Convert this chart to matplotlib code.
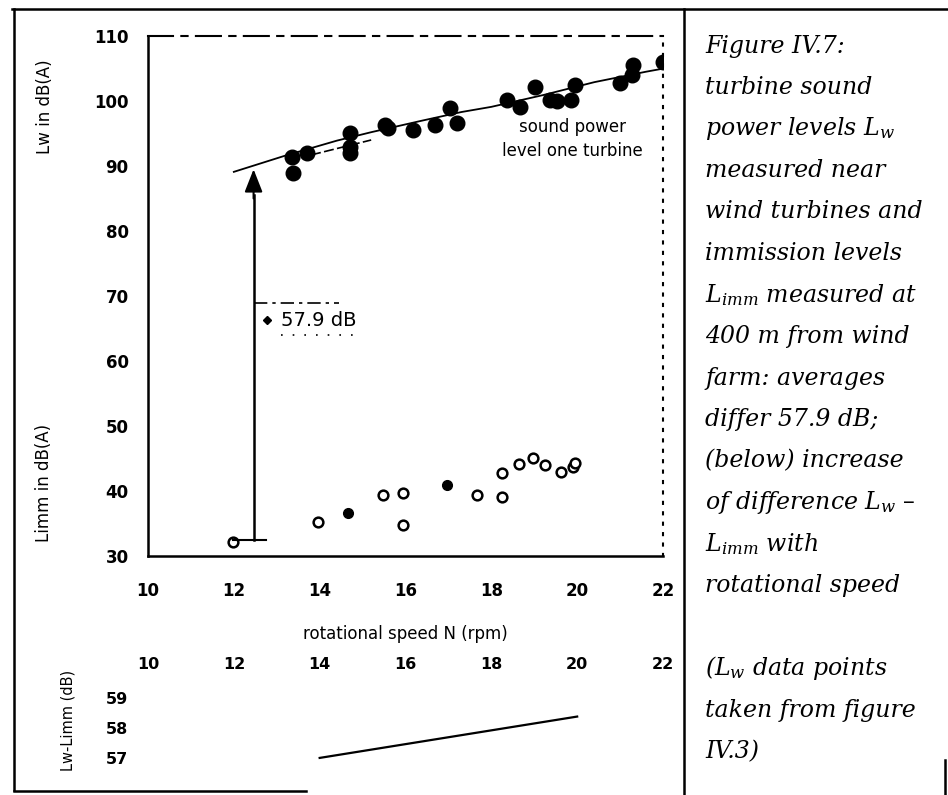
import numpy as np
import matplotlib
matplotlib.use("Agg")
import matplotlib.pyplot as plt
from matplotlib.lines import Line2D

plt.rcParams['font.family'] = ['DejaVu Sans']
plt.rcParams['mathtext.fontset'] = 'dejavuserif'

# ======================= data
# sound power level Lw of one turbine (filled dots)
n_lw = [13.38, 13.36, 13.70, 14.71, 14.71, 14.71, 15.52, 15.60, 16.17, 16.69,
        17.04, 17.20, 18.36, 18.67, 19.02, 19.37, 19.53, 19.95, 19.85, 21.00,
        21.30, 21.28, 22.00]
lw = [88.9, 91.4, 92.0, 95.1, 92.9, 92.0, 96.3, 95.8, 95.5, 96.3,
      98.9, 96.6, 100.2, 99.1, 102.2, 100.2, 100.0, 102.5, 100.2, 102.8,
      105.5, 104.0, 106.0]

# fitted curve through the Lw points
n_fit = [12.0, 13.2, 14.4, 15.2, 16.4, 17.3, 18.0, 19.2, 20.4, 21.6, 22.1]
lw_fit = [89.1, 91.6, 93.9, 95.2, 97.0, 98.3, 99.1, 100.9, 102.9, 104.5, 105.1]
n_fit2 = [13.8, 15.2]
lw_fit2 = [91.7, 94.0]

# immission level Limm at 400 m (open circles, two filled)
n_imm = [11.98, 13.96, 15.48, 15.94, 15.94, 17.67, 18.25, 18.25, 18.64,
         18.97, 19.25, 19.62, 19.90, 19.95]
limm = [32.2, 35.2, 39.4, 39.7, 34.8, 39.4, 39.1, 42.8, 44.2,
        45.1, 44.0, 42.9, 43.7, 44.3]
n_imm_f = [14.66, 16.97]
limm_f = [36.6, 40.9]

# difference of the averages
n_arrow = 12.46
arrow_from, arrow_to = 32.4, 89.5
diff_label = "57.9 dB"

# lower panel: Lw - Limm against rotational speed
n_diff = [14.0, 20.0]
d_diff = [57.0, 58.38]

xticks = [10, 12, 14, 16, 18, 20, 22]
yticks = [30, 40, 50, 60, 70, 80, 90, 100, 110]
yticks_low = [57, 58, 59]

caption = ["Figure IV.7:",
           "turbine sound",
           r"power levels $L_w$",
           "measured near",
           "wind turbines and",
           "immission levels",
           r"$L_{imm}$ measured at",
           "400 m from wind",
           "farm: averages",
           "differ 57.9 dB;",
           "(below) increase",
           r"of difference $L_w$ –",
           r"$L_{imm}$ with",
           "rotational speed",
           "",
           r"($L_w$ data points",
           "taken from figure",
           "IV.3)"]

# ======================= figure
W, H = 948, 795
fig = plt.figure(figsize=(W / 100, H / 100), dpi=100)


def fx(px):
    return px / W


def fy(py):
    return 1 - py / H


# main axes
ax = fig.add_axes([fx(148), fy(556), fx(663) - fx(148), fy(36) - fy(556)])
ax.set_xlim(10, 22)
ax.set_ylim(30, 110)

ax.plot(n_fit, lw_fit, color='k', lw=1.3)
ax.plot(n_fit2, lw_fit2, color='k', lw=1.2, ls=(0, (6, 2)))
ax.plot(n_lw, lw, 'o', color='k', ms=10.5)
ax.plot(n_imm, limm, 'o', mfc='white', mec='k', mew=1.8, ms=7)
ax.plot(n_imm_f, limm_f, 'o', color='k', ms=7)

# arrow from immission level up to sound power level
ax.plot([n_arrow, n_arrow], [arrow_from, arrow_to - 4], color='k', lw=1.8)
ax.annotate("", xy=(n_arrow, arrow_to), xytext=(n_arrow, arrow_to - 4.5),
            arrowprops=dict(arrowstyle='-|>,head_length=1.4,head_width=0.55',
                            color='k', lw=1.5, shrinkA=0, shrinkB=0))
ax.plot([n_imm[0], n_arrow + 0.3], [arrow_from, arrow_from], color='k', lw=1.5)

# label box for the difference
ax.plot([n_arrow, 14.45], [68.9, 68.9], color='k', lw=1.2, ls=(0, (8, 3, 2, 3)))
ax.plot([13.1, 14.9], [64.0, 64.0], color='k', lw=1.2, ls=(0, (1, 6)))
ax.plot([12.77], [66.3], 'D', color='k', ms=4)
ax.text(13.1, 66.3, diff_label, fontsize=14, va='center', ha='left')

ax.text(19.9, 94.1, "sound power\nlevel one turbine", fontsize=12,
        ha='center', va='center', linespacing=1.45)

# spines
for s in ['top', 'bottom', 'left', 'right']:
    ax.spines[s].set_color('k')
ax.spines['left'].set_linewidth(1.8)
ax.spines['bottom'].set_linewidth(1.8)
ax.spines['top'].set_linewidth(1.5)
ax.spines['top'].set_linestyle((0, (12, 4, 3, 4)))
ax.spines['right'].set_linewidth(1.5)
ax.spines['right'].set_linestyle((0, (1, 4)))

ax.set_xticks(xticks)
ax.set_yticks(yticks)
ax.tick_params(length=0, labelsize=12)
ax.tick_params(axis='x', pad=19)
ax.tick_params(axis='y', pad=14)
for lab in ax.get_xticklabels() + ax.get_yticklabels():
    lab.set_fontweight('bold')
ax.set_xlabel("rotational speed N (rpm)", fontsize=12, labelpad=18)

fig.text(fx(45), fy(107), "Lw in dB(A)", rotation=90, fontsize=12,
         ha='center', va='center')
fig.text(fx(44), fy(483), "Limm in dB(A)", rotation=90, fontsize=12,
         ha='center', va='center')

# lower panel
ax2 = fig.add_axes([fx(148), fy(772), fx(663) - fx(148), fy(686) - fy(772)])
ax2.set_xlim(10, 22)
ax2.set_ylim(56.53, 59.4)
ax2.plot(n_diff, d_diff, color='k', lw=1.6)
for s in ax2.spines.values():
    s.set_visible(False)
ax2.set_xticks(xticks)
ax2.set_yticks(yticks_low)
ax2.xaxis.tick_top()
ax2.tick_params(length=0, labelsize=11.5)
ax2.tick_params(axis='x', pad=10)
ax2.tick_params(axis='y', pad=14)
for lab in ax2.get_xticklabels() + ax2.get_yticklabels():
    lab.set_fontweight('bold')
fig.text(fx(68), fy(720), "Lw-Limm (dB)", rotation=90, fontsize=10.5,
         ha='center', va='center')

# caption on the right
for i, line in enumerate(caption):
    fig.text(fx(705), fy(46 + 41.5 * i), line, family='DejaVu Serif',
             style='italic', fontsize=17, ha='left', va='center')

# frame of the scanned figure
frame = [([12, 948], [9, 9]),
         ([14, 14], [9, 790]),
         ([684, 684], [9, 795]),
         ([14, 306], [791, 791]),
         ([945, 945], [760, 795])]
for xs, ys in frame:
    fig.add_artist(Line2D([fx(v) for v in xs], [fy(v) for v in ys],
                          transform=fig.transFigure, color='k', lw=1.8))

fig.savefig("out.png", dpi=100)
